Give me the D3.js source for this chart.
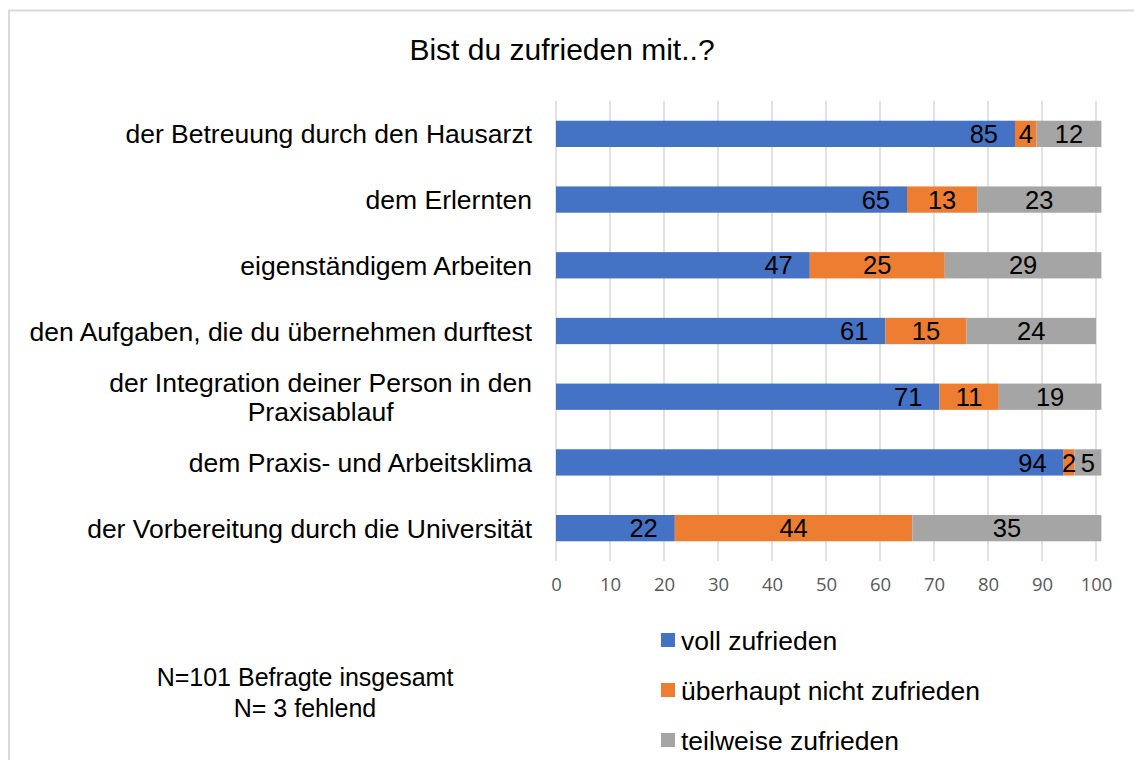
<!DOCTYPE html>
<html>
<head>
<meta charset="utf-8">
<script src="https://cdn.jsdelivr.net/npm/d3@7"></script>
<style>
  html, body { margin: 0; padding: 0; background: #fff; }
  svg { display: block; }
</style>
</head>
<body>
<svg id="chart" width="1134" height="760"></svg>
<script>
// ---- data ----
const categories = [
  "der Betreuung durch den Hausarzt",
  "dem Erlernten",
  "eigenständigem Arbeiten",
  "den Aufgaben, die du übernehmen durftest",
  "der Integration deiner Person in den\nPraxisablauf",
  "dem Praxis- und Arbeitsklima",
  "der Vorbereitung durch die Universität"
];
const seriesNames = ["voll zufrieden", "überhaupt nicht zufrieden", "teilweise zufrieden"];
const vollZufrieden = [85, 65, 47, 61, 71, 94, 22];
const ueberhauptNicht = [4, 13, 25, 15, 11, 2, 44];
const teilweise = [12, 23, 29, 24, 19, 5, 35];
const xTicks = [0, 10, 20, 30, 40, 50, 60, 70, 80, 90, 100];
const colors = ["#4472C4", "#ED7D31", "#A5A5A5"];
const titleText = "Bist du zufrieden mit..?";
const noteLines = ["N=101 Befragte insgesamt", "N= 3 fehlend"];

const svg = d3.select("#chart");
const FONT = "'Liberation Sans', Arial, Helvetica, sans-serif";

// border
svg.append("rect").attr("x", 9).attr("y", 10.5).attr("width", 1140).attr("height", 760)
  .attr("fill", "none").attr("stroke", "#d9d9d9").attr("stroke-width", 2);

// title
svg.append("text").attr("x", 562).attr("y", 60).attr("text-anchor", "middle")
  .attr("font-family", FONT).attr("font-size", 30).attr("fill", "#000").text(titleText);

const x = d3.scaleLinear().domain([0, 100]).range([556, 1096]);
const y = d3.scaleBand().domain(categories).range([101, 561]).paddingInner(0.6).paddingOuter(0.3);

// gridlines
svg.append("g").selectAll("line").data(xTicks).join("line")
  .attr("x1", d => x(d)).attr("x2", d => x(d))
  .attr("y1", 101).attr("y2", 561)
  .attr("stroke", "#d9d9d9").attr("stroke-width", 1.5);

// x axis tick labels via d3 axis
const xAxis = d3.axisBottom(x).tickValues(xTicks).tickSize(0).tickPadding(0);
const gx = svg.append("g").attr("transform", "translate(0,578)").call(xAxis);
gx.select(".domain").remove();
gx.selectAll("text").attr("font-family", "'Open Sans', Carlito, Calibri, sans-serif")
  .attr("font-size", 18.5).attr("fill", "#595959").attr("dy", "0.71em");

// stacked data
const rows = categories.map((c, i) => ({ cat: c, vals: [vollZufrieden[i], ueberhauptNicht[i], teilweise[i]] }));
const stack = d3.stack().keys([0, 1, 2]).value((d, k) => d.vals[k]);
const stacked = stack(rows);

const gBars = svg.append("g");
stacked.forEach((layer, k) => {
  const g = gBars.append("g");
  g.selectAll("rect").data(layer).join("rect")
    .attr("x", d => x(d[0]))
    .attr("y", d => y(d.data.cat))
    .attr("width", d => x(d[1]) - x(d[0]))
    .attr("height", y.bandwidth())
    .attr("fill", colors[k]);
});
stacked.forEach((layer, k) => {
  const g = gBars.append("g");
  g.selectAll("text").data(layer).join("text")
    .attr("x", d => k === 0 ? x(d[1]) - 17 : (x(d[0]) + x(d[1])) / 2)
    .attr("y", d => y(d.data.cat) + y.bandwidth() / 2)
    .attr("dy", "0.36em")
    .attr("text-anchor", k === 0 ? "end" : "middle")
    .attr("font-family", FONT).attr("font-size", 25.5).attr("fill", "#000")
    .text(d => d.data.vals[k]);
});

// category labels
const gy = svg.append("g");
categories.forEach(c => {
  const lines = c.split("\n");
  const cy = y(c) + y.bandwidth() / 2;
  const lh = 29;
  const t = gy.append("text").attr("font-family", FONT).attr("font-size", 26.5).attr("fill", "#000")
    .attr("text-anchor", "middle");
  lines.forEach((ln, i) => {
    t.append("tspan").attr("y", cy + (i - (lines.length - 1) / 2) * lh).attr("dy", "0.36em").text(ln);
  });
  let maxW = 0;
  t.selectAll("tspan").each(function () { maxW = Math.max(maxW, this.getComputedTextLength()); });
  t.selectAll("tspan").attr("x", 532 - maxW / 2);
});

// legend
const legend = svg.append("g");
seriesNames.forEach((s, i) => {
  const ly = 640 + i * 50;
  legend.append("rect").attr("x", 661).attr("y", ly - 7).attr("width", 14).attr("height", 14).attr("fill", colors[i]);
  legend.append("text").attr("x", 681).attr("y", ly).attr("dy", "0.36em")
    .attr("font-family", FONT).attr("font-size", 26.5).attr("fill", "#000").text(s);
});

// note
const note = svg.append("text").attr("text-anchor", "middle").attr("font-family", FONT)
  .attr("font-size", 25).attr("fill", "#000");
noteLines.forEach((ln, i) => {
  note.append("tspan").attr("x", 305).attr("y", 686 + i * 31).text(ln);
});
</script>
</body>
</html>
